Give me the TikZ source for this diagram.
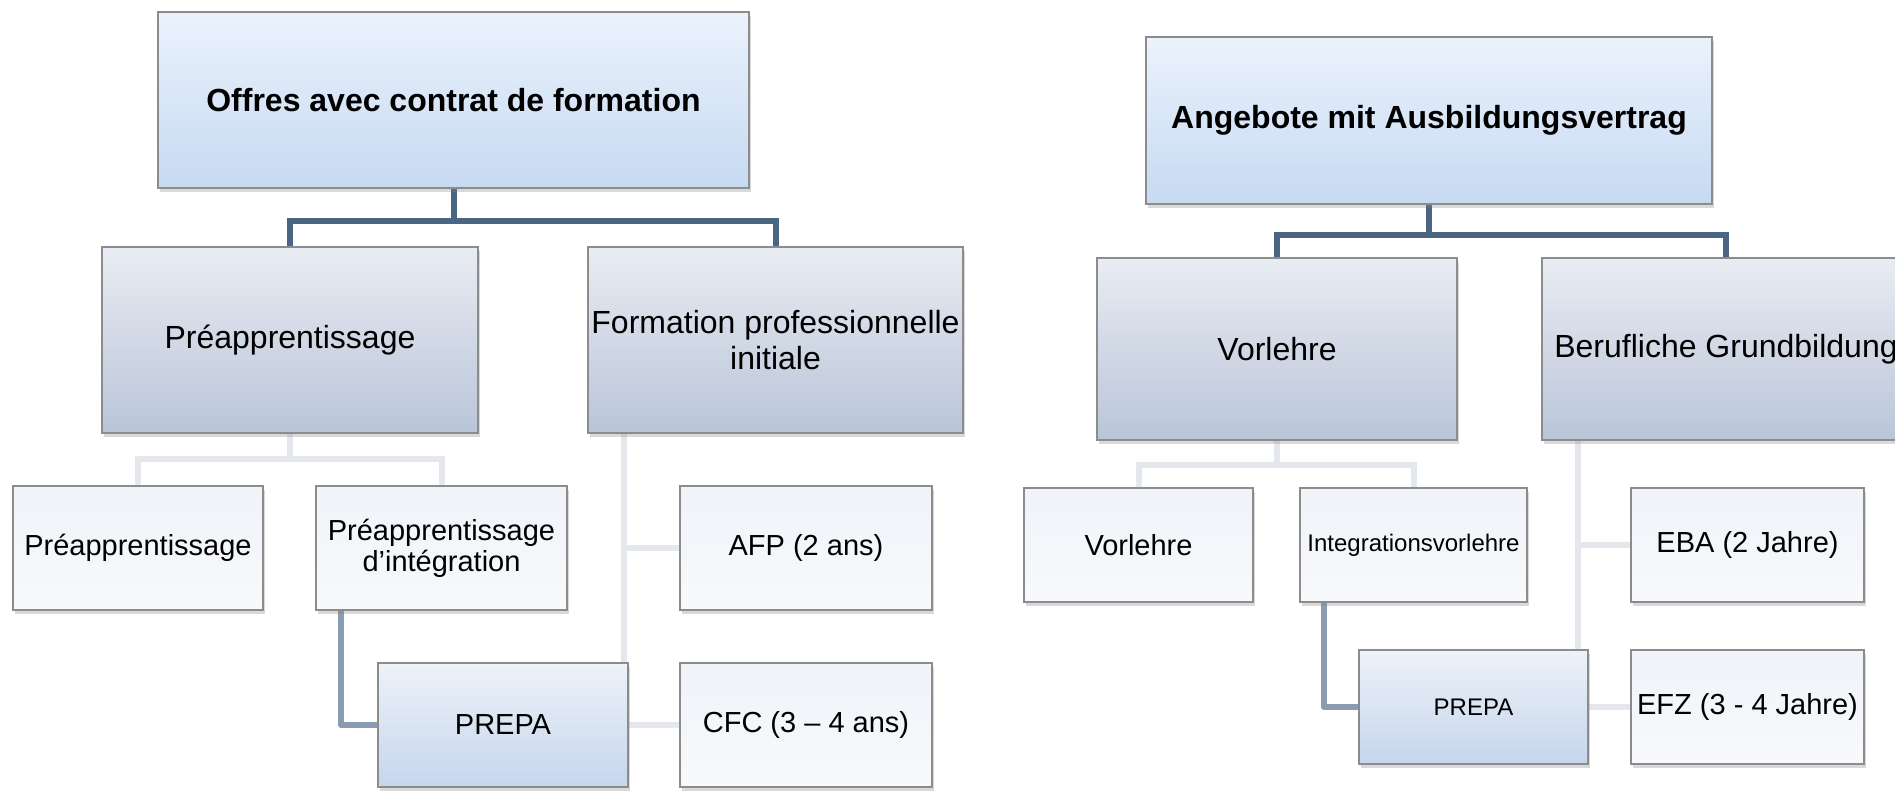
\documentclass[tikz,border=0pt]{standalone}
\usepackage{fontspec}
\setmainfont{Liberation Sans}
\usetikzlibrary{shadows,backgrounds}
\definecolor{boxborder}{HTML}{8C8C8C}
\definecolor{topA}{HTML}{EBF2FC}
\definecolor{topB}{HTML}{C6DAF2}
\definecolor{midA}{HTML}{E9ECF3}
\definecolor{midB}{HTML}{B9C5D8}
\definecolor{leafA}{HTML}{F0F3F8}
\definecolor{leafB}{HTML}{F7F9FC}
\definecolor{prepA}{HTML}{EEF2F9}
\definecolor{prepB}{HTML}{C5D6EC}
\definecolor{darkc}{HTML}{4B6584}
\definecolor{lightc}{HTML}{E4E8ED}
\definecolor{slatec}{HTML}{8A9CB2}
\begin{document}
\begin{tikzpicture}[x=1pt,y=-1pt,
  base/.style={draw=boxborder, line width=1.3pt, inner sep=0pt, align=center,
    drop shadow={opacity=0.3, shadow xshift=1.5pt, shadow yshift=-3.5pt}},
  topbox/.style={base, top color=topA, bottom color=topB, font=\fontsize{32}{36}\selectfont\bfseries},
  midbox/.style={base, top color=midA, bottom color=midB, font=\fontsize{32}{36}\selectfont},
  leafbox/.style={base, top color=leafA, bottom color=leafB, font=\fontsize{29}{31}\selectfont},
  prepabox/.style={base, top color=prepA, bottom color=prepB, font=\fontsize{29}{31}\selectfont},
  sz/.style 2 args={minimum width=#1pt, minimum height=#2pt},
  darkconn/.style={draw=darkc, line width=6pt},
  lightconn/.style={draw=lightc, line width=6pt},
  slateconn/.style={draw=slatec, line width=6pt, line join=round}
]
\useasboundingbox (0,0) rectangle (1895,793);

% helper coordinates for connector bends
\coordinate (h1) at (453.5,221);
\coordinate (h1a) at (290,459);
\coordinate (b1v) at (624,433);
\coordinate (s1) at (341,610);
\coordinate (h2) at (1429,235);
\coordinate (h2a) at (1277,465);
\coordinate (b2v) at (1578,440);
\coordinate (s2) at (1324,602);

% ---------------- nodes ----------------
\node[topbox, sz={591}{176}] (T1) at (453.5,100) {Offres avec contrat de formation};
\node[midbox, sz={376}{186}] (A1) at (290,340) {Préapprentissage};
\node[midbox, sz={375}{186}] (B1) at (775.5,340) {Formation professionnelle\\initiale};
\node[leafbox, sz={250}{124}] (A1a) at (138,548) {Préapprentissage};
\node[leafbox, sz={251}{124}] (A1b) at (441.5,548) {Préapprentissage\\d’intégration};
\node[leafbox, sz={252}{124}] (B1a) at (806,548) {AFP (2 ans)};
\node[leafbox, sz={252}{124}] (B1b) at (806,725) {CFC (3 – 4 ans)};
\node[prepabox, sz={250}{124}] (P1) at (503,725) {PREPA};

\node[topbox, sz={566}{167}] (T2) at (1429,120.5) {Angebote mit Ausbildungsvertrag};
\node[midbox, sz={360}{182}] (A2) at (1277,349) {Vorlehre};
\node[midbox, sz={368}{182}] (B2) at (1726,349) {Berufliche Grundbildung};
\node[leafbox, sz={229}{114}] (A2a) at (1138.5,545) {Vorlehre};
\node[leafbox, sz={227}{114}, font=\fontsize{24}{28}\selectfont] (A2b) at (1413.5,545) {Integrationsvorlehre};
\node[leafbox, sz={233}{114}] (B2a) at (1747.5,545) {EBA (2 Jahre)};
\node[leafbox, sz={233}{114}] (B2b) at (1747.5,707) {EFZ (3 - 4 Jahre)};
\node[prepabox, sz={229}{114}, font=\fontsize{24}{28}\selectfont] (P2) at (1473.5,707) {PREPA};

% ---------------- connectors behind nodes ----------------
\begin{scope}[on background layer]
\draw[darkconn] (T1.south) -- (h1);
\draw[darkconn] (h1) -| (A1.north);
\draw[darkconn] (h1) -| (B1.north);
\draw[lightconn] (A1.south) -- (h1a);
\draw[lightconn] (h1a) -| (A1a.north);
\draw[lightconn] (h1a) -| (A1b.north);
\draw[lightconn] (b1v) -- (b1v |- P1.north);
\draw[lightconn] (b1v |- B1a.west) -- (B1a.west);
\draw[lightconn] (P1.east) -- (B1b.west);
\draw[slateconn] (s1) |- (P1.west);

\draw[darkconn] (T2.south) -- (h2);
\draw[darkconn] (h2) -| (A2.north);
\draw[darkconn] (h2) -| (B2.north);
\draw[lightconn] (A2.south) -- (h2a);
\draw[lightconn] (h2a) -| (A2a.north);
\draw[lightconn] (h2a) -| (A2b.north);
\draw[lightconn] (b2v) -- (b2v |- P2.north);
\draw[lightconn] (b2v |- B2a.west) -- (B2a.west);
\draw[lightconn] (P2.east) -- (B2b.west);
\draw[slateconn] (s2) |- (P2.west);
\end{scope}
\end{tikzpicture}
\end{document}
